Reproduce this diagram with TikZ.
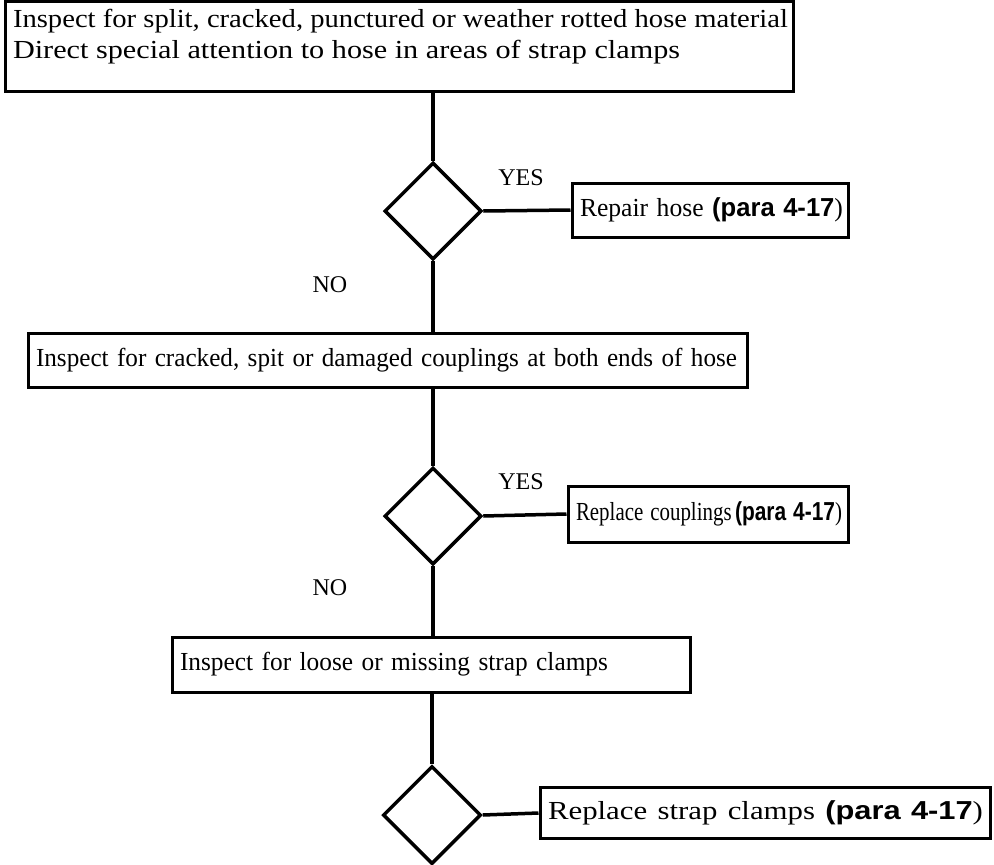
\documentclass[tikz,border=0pt]{standalone}
\usepackage{fontspec}
\usepackage{graphicx}
\setmainfont{Liberation Serif}
\newfontfamily\hvfont{Liberation Sans}
\usetikzlibrary{shapes.geometric}
\newcommand\pararef{{\hvfont\bfseries(para 4-17})}
\newcommand\fitw[2]{\resizebox{#1}{\height}{\mbox{#2}}}
\begin{document}
\begin{tikzpicture}[x=1pt,y=-1pt,
  box/.style={draw,line width=3pt,rectangle,inner xsep=8pt,inner ysep=0pt,align=left,anchor=center,
    font=\fontsize{26}{31}\selectfont},
  dec/.style={draw,line width=3.5pt,diamond,minimum width=97pt,minimum height=97pt,inner sep=0pt},
  conn/.style={line width=3.5pt},
  lab/.style={font=\fontsize{24}{28}\selectfont,inner sep=0pt}]
\useasboundingbox (0,0) rectangle (994,865);
% boxes
\node[box,inner ysep=5pt,minimum height=90pt] (b1) at (399,46)
  {\parbox[c][80pt][t]{772pt}{\strut\fitw{775pt}{Inspect for split, cracked, punctured or weather rotted hose material}\\
   \fitw{667pt}{Direct special attention to hose in areas of strap clamps}}};
\node[dec] (d1) at (433,211) {};
\node[box,text width=260pt,minimum height=54pt] (r1) at (710,210)
  {\fitw{263pt}{Repair hose \pararef}};
\node[box,text width=703pt,minimum height=54pt] (b2) at (387.5,360)
  {\fitw{701pt}{Inspect for cracked, spit or damaged couplings at both ends of hose}};
\node[dec] (d2) at (433,516) {};
\node[box,text width=264pt,minimum height=56pt] (r2) at (708,514)
  {\fitw{266pt}{Replace couplings\,\pararef}};
\node[box,text width=502pt,minimum height=55pt] (b3) at (431,664.5)
  {\fitw{428pt}{Inspect for loose or missing strap clamps}};
\node[dec,minimum width=98pt,minimum height=98pt] (d3) at (432,815) {};
\node[box,text width=434pt,minimum height=51pt] (r3) at (765,813)
  {\fitw{435pt}{Replace strap clamps \pararef}};
% labels
\node[lab] (y1) at (521,178) {YES};
\node[lab] (n1) at (330,285) {NO};
\node[lab] (y2) at (521,482) {YES};
\node[lab] (n2) at (330,588) {NO};
% connectors
\draw[conn] (d1.north) -- (d1.north |- b1.south);
\draw[conn] (d1.east) -- (r1.west);
\draw[conn] (d1.south) -- (d1.south |- b2.north);
\draw[conn] (d2.north) -- (d2.north |- b2.south);
\draw[conn] (d2.east) -- (r2.west);
\draw[conn] (d2.south) -- (d2.south |- b3.north);
\draw[conn] (d3.north) -- (d3.north |- b3.south);
\draw[conn] (d3.east) -- (r3.west);
\end{tikzpicture}
\end{document}
